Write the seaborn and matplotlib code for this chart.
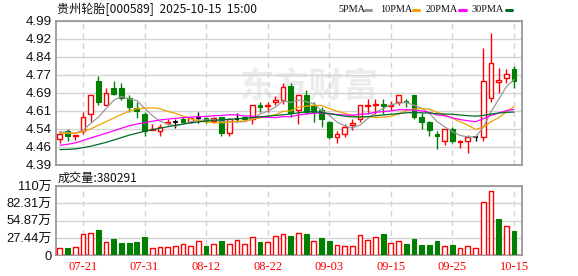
import numpy as np
import matplotlib
matplotlib.use("Agg")
import matplotlib.pyplot as plt
from matplotlib.lines import Line2D
import seaborn as sns

# ---------------- data ----------------
dates = ["07-16", "07-17", "07-18", "07-21", "07-22", "07-23", "07-24", "07-25", "07-28", "07-29",
         "07-30", "07-31", "08-01", "08-04", "08-05", "08-06", "08-07", "08-08", "08-11", "08-12",
         "08-13", "08-14", "08-15", "08-18", "08-19", "08-20", "08-21", "08-22", "08-25", "08-26",
         "08-27", "08-28", "08-29", "09-01", "09-02", "09-03", "09-04", "09-05", "09-08", "09-09",
         "09-10", "09-11", "09-12", "09-15", "09-16", "09-17", "09-18", "09-19", "09-22", "09-23",
         "09-24", "09-25", "09-26", "09-29", "09-30", "10-09", "10-10", "10-13", "10-14", "10-15"]

open_price = [4.50, 4.53, 4.51, 4.53, 4.60, 4.74, 4.64, 4.71, 4.71, 4.67,
              4.625, 4.60, 4.535, 4.53, 4.565, 4.57, 4.58, 4.57, 4.585, 4.585,
              4.575, 4.59, 4.525, 4.58, 4.59, 4.58, 4.64, 4.635, 4.65, 4.66,
              4.72, 4.62, 4.68, 4.64, 4.62, 4.57, 4.505, 4.52, 4.555, 4.58,
              4.635, 4.64, 4.645, 4.635, 4.65, 4.65, 4.68, 4.59, 4.57, 4.52,
              4.49, 4.54, 4.485, 4.49, 4.505, 4.505, 4.67, 4.735, 4.75, 4.79]
high_price = [4.53, 4.54, 4.515, 4.61, 4.68, 4.76, 4.71, 4.74, 4.73, 4.68,
              4.65, 4.61, 4.56, 4.56, 4.58, 4.58, 4.59, 4.59, 4.61, 4.59,
              4.59, 4.59, 4.585, 4.608, 4.595, 4.64, 4.65, 4.65, 4.675, 4.73,
              4.73, 4.68, 4.70, 4.65, 4.63, 4.575, 4.53, 4.56, 4.58, 4.64,
              4.665, 4.665, 4.665, 4.655, 4.68, 4.665, 4.68, 4.605, 4.575, 4.53,
              4.54, 4.55, 4.495, 4.515, 4.51, 4.875, 4.94, 4.795, 4.79, 4.80]
low_price = [4.48, 4.49, 4.495, 4.52, 4.57, 4.64, 4.64, 4.68, 4.66, 4.61,
             4.585, 4.51, 4.535, 4.51, 4.555, 4.545, 4.565, 4.565, 4.563, 4.565,
             4.565, 4.51, 4.51, 4.568, 4.575, 4.56, 4.61, 4.61, 4.64, 4.645,
             4.59, 4.56, 4.60, 4.57, 4.55, 4.50, 4.48, 4.505, 4.535, 4.57,
             4.60, 4.60, 4.60, 4.62, 4.64, 4.63, 4.58, 4.54, 4.51, 4.455,
             4.475, 4.48, 4.46, 4.44, 4.49, 4.49, 4.65, 4.69, 4.73, 4.71]
close_price = [4.52, 4.51, 4.515, 4.59, 4.68, 4.65, 4.69, 4.685, 4.67, 4.63,
               4.615, 4.53, 4.54, 4.55, 4.57, 4.57, 4.57, 4.585, 4.585, 4.575,
               4.585, 4.525, 4.58, 4.58, 4.58, 4.64, 4.63, 4.64, 4.66, 4.715,
               4.605, 4.68, 4.61, 4.61, 4.58, 4.505, 4.52, 4.55, 4.565, 4.64,
               4.64, 4.645, 4.635, 4.64, 4.68, 4.65, 4.59, 4.57, 4.535, 4.51,
               4.54, 4.49, 4.49, 4.505, 4.505, 4.74, 4.815, 4.745, 4.77, 4.74]
# volume in 万 (10k shares)
volume = [12.2, 11.2, 13.8, 33.0, 34.6, 40.0, 20.7, 25.5, 19.1, 19.1,
          20.7, 28.7, 12.2, 13.8, 13.8, 15.4, 18.6, 14.4, 23.4, 14.4,
          18.6, 22.3, 18.6, 25.0, 18.6, 28.2, 20.7, 21.8, 29.8, 33.0,
          30.3, 34.6, 33.5, 23.4, 27.1, 22.3, 17.0, 15.4, 15.4, 31.4,
          25.0, 28.2, 33.5, 20.2, 23.4, 17.6, 25.5, 16.0, 16.0, 22.3,
          15.4, 16.0, 12.2, 15.4, 12.2, 84.0, 101.6, 57.4, 45.7, 38.03]

ma5 = [4.528, 4.525, 4.522, 4.535, 4.563, 4.589, 4.625, 4.659, 4.675, 4.665,
       4.658, 4.626, 4.596, 4.572, 4.561, 4.552, 4.560, 4.569, 4.576, 4.577,
       4.580, 4.571, 4.570, 4.569, 4.570, 4.581, 4.602, 4.614, 4.630, 4.657,
       4.650, 4.660, 4.654, 4.644, 4.617, 4.597, 4.568, 4.553, 4.544, 4.556,
       4.583, 4.608, 4.625, 4.640, 4.647, 4.650, 4.639, 4.626, 4.605, 4.571,
       4.549, 4.529, 4.513, 4.507, 4.506, 4.546, 4.611, 4.662, 4.715, 4.745]
ma10 = [4.522, 4.522, 4.522, 4.528, 4.540, 4.555, 4.570, 4.585, 4.600, 4.614,
        4.624, 4.626, 4.628, 4.624, 4.613, 4.605, 4.593, 4.583, 4.574, 4.569,
        4.566, 4.565, 4.569, 4.572, 4.573, 4.580, 4.586, 4.592, 4.599, 4.613,
        4.615, 4.631, 4.634, 4.638, 4.638, 4.625, 4.614, 4.605, 4.595, 4.588,
        4.591, 4.588, 4.589, 4.592, 4.602, 4.616, 4.623, 4.625, 4.622, 4.609,
        4.599, 4.584, 4.570, 4.556, 4.538, 4.547, 4.570, 4.587, 4.610, 4.633]
ma20 = [4.472, 4.476, 4.482, 4.492, 4.502, 4.512, 4.522, 4.532, 4.543, 4.553,
        4.560, 4.566, 4.572, 4.577, 4.581, 4.584, 4.587, 4.589, 4.591, 4.592,
        4.595, 4.596, 4.599, 4.598, 4.594, 4.593, 4.590, 4.588, 4.587, 4.591,
        4.591, 4.598, 4.602, 4.605, 4.606, 4.603, 4.600, 4.598, 4.597, 4.601,
        4.603, 4.609, 4.612, 4.615, 4.620, 4.620, 4.618, 4.615, 4.609, 4.598,
        4.595, 4.586, 4.579, 4.574, 4.570, 4.582, 4.596, 4.606, 4.616, 4.621]
ma30 = [4.454, 4.455, 4.457, 4.462, 4.468, 4.476, 4.484, 4.494, 4.504, 4.514,
        4.522, 4.530, 4.537, 4.543, 4.549, 4.555, 4.560, 4.565, 4.569, 4.573,
        4.576, 4.578, 4.580, 4.582, 4.584, 4.587, 4.590, 4.593, 4.596, 4.599,
        4.602, 4.607, 4.611, 4.612, 4.608, 4.604, 4.598, 4.593, 4.590, 4.590,
        4.591, 4.595, 4.598, 4.601, 4.604, 4.607, 4.608, 4.607, 4.606, 4.603,
        4.602, 4.601, 4.598, 4.595, 4.593, 4.596, 4.602, 4.606, 4.609, 4.610]

tick_dates = ["07-21", "07-31", "08-12", "08-22", "09-03", "09-15", "09-25", "10-15"]
price_tick_labels = ["4.39", "4.46", "4.54", "4.61", "4.69", "4.77", "4.84", "4.92", "4.99"]
price_range = [4.39, 4.99]
vol_tick_labels = ["0", "27.44万", "54.87万", "82.31万", "110万"]
vol_max = 109.75
ma_names = ["5PMA", "10PMA", "20PMA", "30PMA"]
title = "贵州轮胎[000589]  2025-10-15  15:00"
vol_title = "成交量:380291"

# ---------------- style ----------------
sns.set_theme(style="white")
plt.rcParams["font.family"] = ["Liberation Sans", "Noto Sans CJK SC", "DejaVu Sans"]

RED = "#ff0000"
GREEN = "#008000"
BLACK = "#000000"
MA_COLORS = ["#999999", "#f2a200", "#ff00ff", "#006b2a"]
SPINE = "#999999"
GRID = "#d3d3d3"
CJK = ["Noto Sans CJK SC", "DejaVu Sans"]
NUM_CJK = ["Liberation Sans", "Noto Sans CJK SC"]
SERIF = ["Liberation Serif", "DejaVu Serif"]

W, H = 578, 276
fig = plt.figure(figsize=(W / 100, H / 100), dpi=100)
fig.patch.set_facecolor("white")


def box(l, t, r, b):
    return [l / W, 1 - b / H, (r - l) / W, (b - t) / H]


ax = fig.add_axes(box(56, 20.7, 522, 165))
axv = fig.add_axes(box(56, 186, 522, 255.3))

o = np.array(open_price)
h = np.array(high_price)
lo = np.array(low_price)
c = np.array(close_price)
v = np.array(volume)
n = len(c)
x = np.arange(n)
prev = np.r_[o[0], c[:-1]]

candle_col = np.where(c > o, RED, np.where(c < o, GREEN,
                      np.where(c > prev, RED, np.where(c < prev, GREEN, BLACK))))
vol_col = np.where(c >= prev, RED, GREEN)

BW = 0.62
# wicks
ax.vlines(x, lo, h, colors=candle_col, lw=1.0, zorder=3)
up = c > o
dn = c < o
fl = c == o
ax.bar(x[up], (c - o)[up], bottom=o[up], width=BW, facecolor="white",
       edgecolor=RED, linewidth=1.0, zorder=4)
ax.bar(x[dn], (o - c)[dn], bottom=c[dn], width=BW, facecolor=GREEN,
       edgecolor=GREEN, linewidth=0.8, zorder=4)
ax.hlines(c[fl], x[fl] - BW / 2, x[fl] + BW / 2, colors=candle_col[fl], lw=1.3, zorder=4)

for ma, col in zip([ma5, ma10, ma20, ma30], MA_COLORS):
    sns.lineplot(x=x, y=ma, ax=ax, color=col, lw=0.9, zorder=5)

# volume bars
vr = vol_col == RED
vg = ~vr
axv.bar(x[vr], v[vr], width=BW, facecolor="white", edgecolor=RED, linewidth=1.0, zorder=3)
axv.bar(x[vg], v[vg], width=BW, facecolor=GREEN, edgecolor=GREEN, linewidth=0.8, zorder=3)

# axes setup
tick_idx = [dates.index(d) for d in tick_dates]
for a in (ax, axv):
    a.set_xlim(-0.5, n + 0.04)
    a.set_facecolor("white")
    for s in a.spines.values():
        s.set_color(SPINE)
        s.set_linewidth(1.3)
    for t in tick_idx:
        a.axvline(t, color=GRID, lw=1.0, ls=(0, (4, 3)), zorder=1)
    a.tick_params(axis="both", length=0)

ax.set_ylim(*price_range)
ax.set_yticks(np.linspace(price_range[0], price_range[1], len(price_tick_labels)))
ax.set_yticklabels(price_tick_labels)
ax.yaxis.grid(True, color=GRID, lw=1.0, zorder=1)
ax.set_xticks([])
ax.tick_params(axis="y", pad=3, labelsize=9.6, colors="#111111")
ax.set_xlabel("")
ax.set_ylabel("")

axv.set_ylim(0, vol_max)
axv.set_yticks(np.linspace(0, vol_max, len(vol_tick_labels)))
axv.set_yticklabels(vol_tick_labels)
axv.yaxis.grid(True, color=GRID, lw=1.0, zorder=1)
axv.tick_params(axis="y", pad=3, labelsize=9.3, colors="#111111")
for lab in axv.get_yticklabels():
    lab.set_family(NUM_CJK)
axv.set_xticks(tick_idx)
axv.set_xticklabels(tick_dates)
axv.tick_params(axis="x", pad=4, labelsize=9, colors=RED)
for lab in axv.get_xticklabels():
    lab.set_family(SERIF)

# watermark
ax.text(309 / W, 1 - 86 / H, "东方财富", transform=fig.transFigure, fontsize=25,
        color="#ececec", family=CJK, weight="bold", ha="center", va="center", zorder=0.5)

# titles
fig.text(57 / W, 1 - 9 / H, title, fontsize=8.7, family=CJK, color="#111111",
         ha="left", va="center")
fig.text(58 / W, 1 - 178 / H, vol_title, fontsize=8.7, family=CJK, color="#111111",
         ha="left", va="center")

# legend
label_x = [338, 380, 426, 472]
for name, lx in zip(ma_names, label_x):
    fig.text(lx / W, 1 - 9.5 / H, name, fontsize=7.4, family=SERIF, color="#111111",
             ha="left", va="center")
legend_dash = [(365, 371), (413, 419), (459, 466), (506, 512)]
for (x0, x1), col in zip(legend_dash, MA_COLORS):
    fig.add_artist(Line2D([x0 / W, x1 / W], [1 - 9.5 / H, 1 - 9.5 / H],
                          transform=fig.transFigure, color=col, lw=2.2))

fig.savefig("out.png", dpi=100, facecolor="white")
